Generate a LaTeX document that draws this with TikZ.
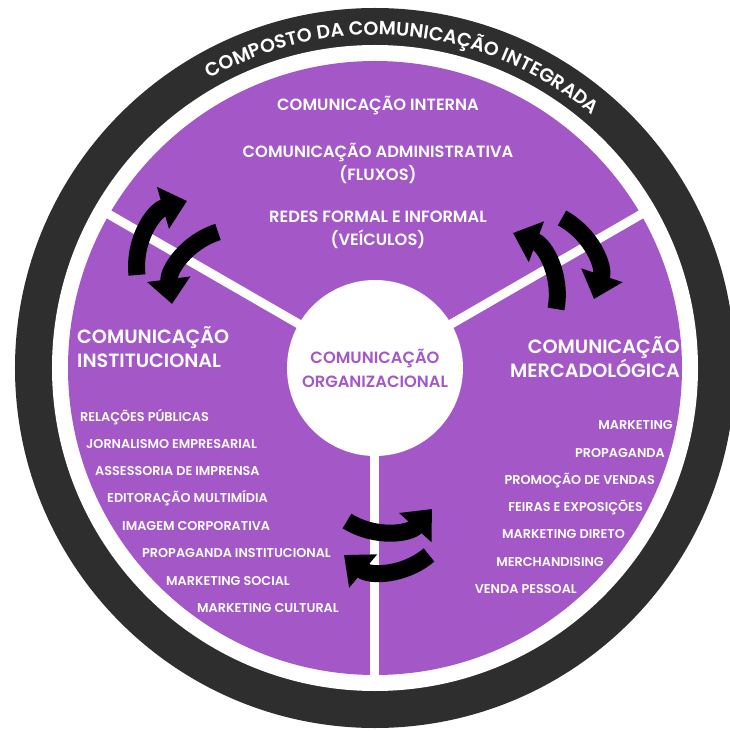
\documentclass[tikz,border=0pt]{standalone}
\usepackage{fontspec}
\setmainfont{Poppins}[BoldFont={Poppins SemiBold}]
\usetikzlibrary{arrows.meta,decorations.text}
\definecolor{purp}{HTML}{A458C8}
\definecolor{ringdark}{HTML}{2E2E2E}
\begin{document}
\begin{tikzpicture}[x=1pt,y=1pt,
  topitem/.style={text=white,font=\bfseries\fontsize{16.3}{23}\selectfont,align=center,inner sep=0pt},
  header/.style={text=white,font=\bfseries\fontsize{19.2}{24}\selectfont,inner sep=0pt},
  listitem/.style={text=white,font=\bfseries\fontsize{12.8}{13}\selectfont,inner sep=0pt},
  arr/.style={line width=17pt,black,-{Triangle[width=42pt,length=25pt]}},
  spoke/.style={white,line width=9pt}]
\useasboundingbox (-375,-363) rectangle (354,368);
\fill[white] (-375,-363) rectangle (354,368);
\fill[ringdark] (0,0) circle (360);
\fill[white] (0,0) circle (323);
\fill[purp] (0,0) circle (307);
\coordinate (o) at (0,0);
\coordinate (sl) at (150:315);
\coordinate (sr) at (30:315);
\coordinate (sb) at (270:315);
\draw[spoke] (o) -- (sl);
\draw[spoke] (o) -- (sr);
\draw[spoke] (o) -- (sb);
\node[circle,fill=white,minimum size=176pt,inner sep=0pt,text=purp,align=center,
  font=\bfseries\fontsize{16.3}{24}\selectfont] (core) at (0,0) {COMUNICAÇÃO\\ORGANIZACIONAL};
% curved title
\path[decorate,decoration={text along path,text align=center,text color=white,
  text={|\bfseries\fontsize{19}{19}\selectfont|COMPOSTO DA COMUNICAÇÃO INTEGRADA}}]
  (145:333) arc[start angle=145,end angle=24,radius=333];
% top items
\node[topitem] (t1) at (3,263) {COMUNICAÇÃO INTERNA};
\node[topitem] (t2) at (3,204.5) {COMUNICAÇÃO ADMINISTRATIVA\\(FLUXOS)};
\node[topitem] (t3) at (3,138.5) {REDES FORMAL E INFORMAL\\(VEÍCULOS)};
% headers
\node[header,anchor=west,align=left] (hl) at (-298,20.5) {COMUNICAÇÃO\\INSTITUCIONAL};
\node[header,anchor=east,align=right] (hr) at (305,10.5) {COMUNICAÇÃO\\MERCADOLÓGICA};
% left list
\node[listitem,anchor=base west] (l1) at (-295,-53) {RELAÇÕES PÚBLICAS};
\node[listitem,anchor=base west] (l2) at (-289,-80) {JORNALISMO EMPRESARIAL};
\node[listitem,anchor=base west] (l3) at (-280,-107) {ASSESSORIA DE IMPRENSA};
\node[listitem,anchor=base west] (l4) at (-268,-134) {EDITORAÇÃO MULTIMÍDIA};
\node[listitem,anchor=base west] (l5) at (-253,-162) {IMAGEM CORPORATIVA};
\node[listitem,anchor=base west] (l6) at (-233,-189) {PROPAGANDA INSTITUCIONAL};
\node[listitem,anchor=base west] (l7) at (-209,-217) {MARKETING SOCIAL};
\node[listitem,anchor=base west] (l8) at (-178,-244) {MARKETING CULTURAL};
% right list
\node[listitem,anchor=base east] (r1) at (298,-61) {MARKETING};
\node[listitem,anchor=base east] (r2) at (290,-89) {PROPAGANDA};
\node[listitem,anchor=base east] (r3) at (280,-116) {PROMOÇÃO DE VENDAS};
\node[listitem,anchor=base east] (r4) at (268,-143) {FEIRAS E EXPOSIÇÕES};
\node[listitem,anchor=base east] (r5) at (250,-170) {MARKETING DIRETO};
\node[listitem,anchor=base east] (r6) at (229,-198) {MERCHANDISING};
\node[listitem,anchor=base east] (r7) at (202,-225) {VENDA PESSOAL};
% arrows
\coordinate (a1s) at (-238,93);  \coordinate (a1e) at (-188,167);
\coordinate (a2s) at (-157,136); \coordinate (a2e) at (-203,64);
\coordinate (b1s) at (181,59);   \coordinate (b1e) at (138,135);
\coordinate (b2s) at (187,150);  \coordinate (b2e) at (219,69);
\coordinate (c1s) at (-28,-153); \coordinate (c1e) at (57,-141);
\coordinate (c2s) at (54,-187);  \coordinate (c2e) at (-31,-187);
\draw[arr] (a1s) to[bend left=40] (a1e);
\draw[arr] (a2s) to[bend right=40] (a2e);
\draw[arr] (b1s) to[bend right=40] (b1e);
\draw[arr] (b2s) to[bend left=40] (b2e);
\draw[arr] (c1s) to[bend right=40] (c1e);
\draw[arr] (c2s) to[bend left=40] (c2e);
\end{tikzpicture}
\end{document}
